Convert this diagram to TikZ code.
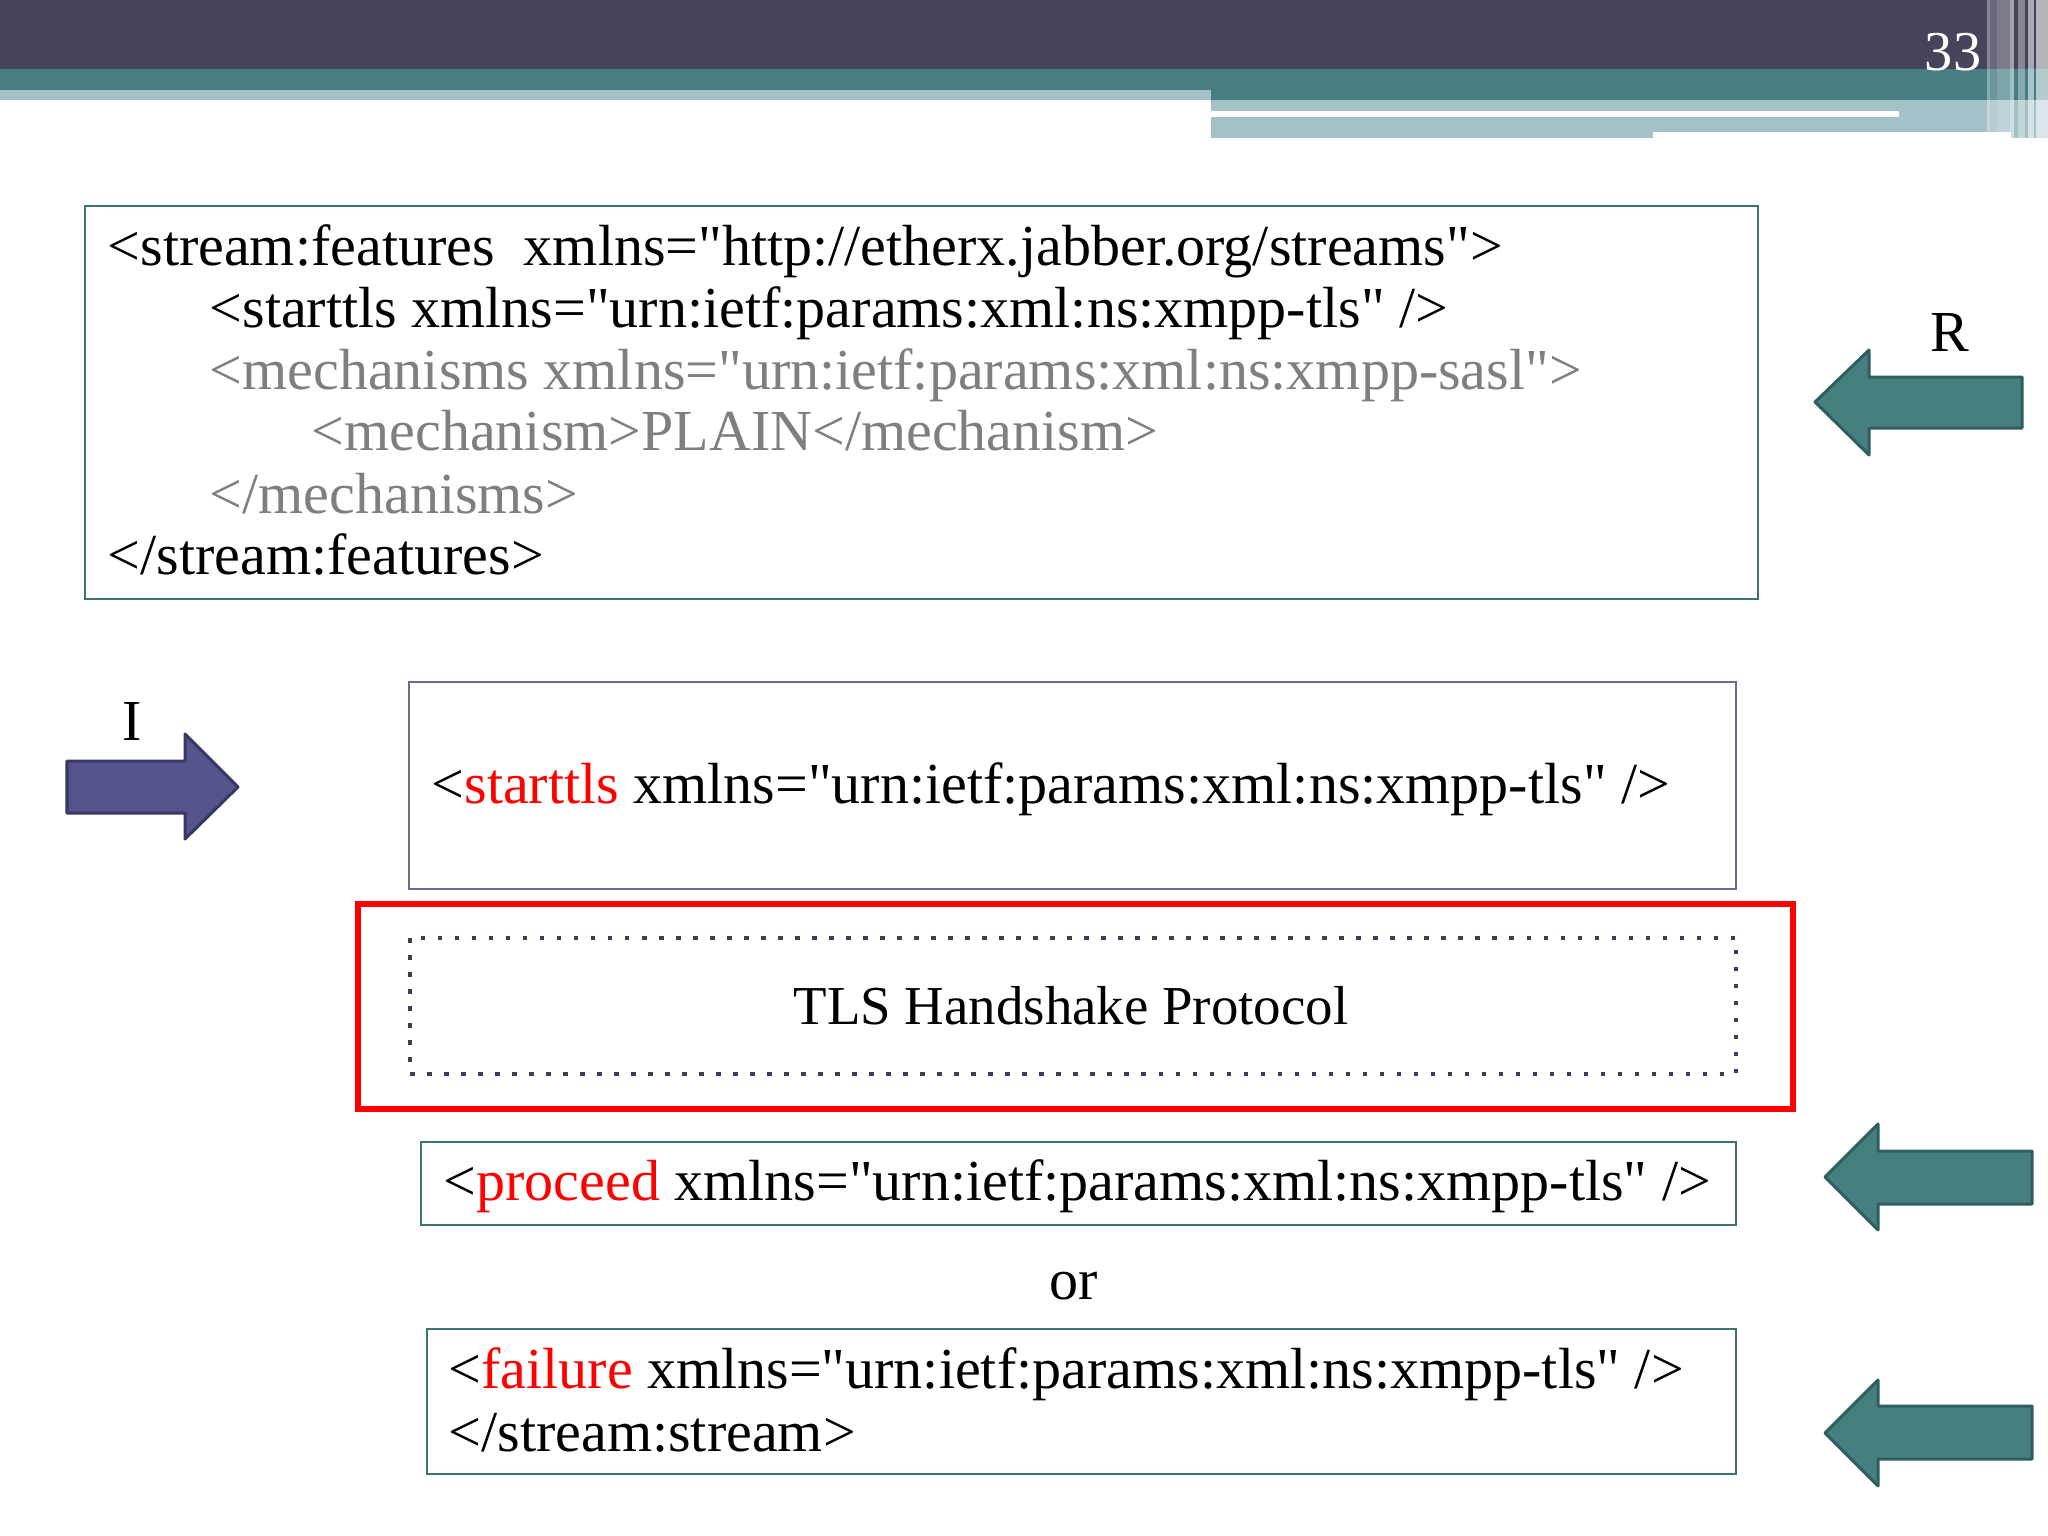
\documentclass[tikz,border=0pt]{standalone}
\usepackage{fontspec}
\setmainfont{Liberation Serif}
\newfontfamily\xmlfamily{Liberation Serif}

\definecolor{bandDark}{HTML}{45445A}
\definecolor{bandTeal}{HTML}{467E83}
\definecolor{bandLight}{HTML}{A3C1C6}
\definecolor{arrowTeal}{HTML}{467F80}
\definecolor{arrowTealLine}{HTML}{2E5E60}
\definecolor{arrowPurple}{HTML}{55538B}
\definecolor{arrowPurpleLine}{HTML}{393766}
\definecolor{boxTeal}{HTML}{3F7272}
\definecolor{boxPurple}{HTML}{6B699A}
\definecolor{dotGray}{HTML}{3C3C5C}
\definecolor{mechGray}{HTML}{7F7F7F}
\definecolor{xmlRed}{HTML}{FF0000}

\newcommand{\codefont}{\xmlfamily\fontsize{16.5}{20}\selectfont}
\newcommand{\hot}[1]{{\color{xmlRed}#1}}

\tikzset{
  xmlbox/.style={draw=boxTeal, line width=0.02cm},
  xmlboxi/.style={draw=boxPurple, line width=0.02cm},
  code/.style={anchor=base west, inner sep=0pt, font=\codefont},
  plain/.style={anchor=base, inner sep=0pt, font=\codefont},
  arrowR/.style={fill=arrowTeal, draw=arrowTealLine, line width=0.03cm, line join=round},
  arrowI/.style={fill=arrowPurple, draw=arrowPurpleLine, line width=0.03cm, line join=round}
}

\begin{document}
\begin{tikzpicture}[x=0.01cm, y=-0.01cm]
  \useasboundingbox (0,0) rectangle (2048,1536);
  \fill[white] (0,0) rectangle (2048,1536);

  % Title bands
  \fill[bandDark] (0,0) rectangle (2048,69);
  \fill[bandTeal] (0,69) rectangle (2048,90);
  \fill[bandTeal] (1211,90) rectangle (2048,100);
  \fill[bandLight] (0,90) rectangle (1211,100);
  \fill[bandLight] (1211,100) rectangle (2048,138);
  \fill[white] (1211,111) rectangle (1899,117);
  \fill[white] (1653,132) rectangle (2011,139);

  % Stripes at the right edge
  \fill[white, opacity=0.35] (1987,0) rectangle (1990,138);
  \fill[white, opacity=0.20] (1990,0) rectangle (1997,138);
  \fill[white, opacity=0.30] (1997,0) rectangle (2010,138);
  \fill[white, opacity=0.50] (2010,0) rectangle (2014,138);
  \fill[white, opacity=0.35] (2018,0) rectangle (2025,138);
  \fill[white, opacity=0.55] (2028,0) rectangle (2034,138);
  \fill[white, opacity=0.60] (2036,0) rectangle (2048,138);

  % Slide number
  \node[plain, text=white, font=\xmlfamily\fontsize{16}{19}\selectfont] (slideno) at (1953,70) {33};

  % Server features
  \draw[xmlbox] (85,206) rectangle (1758,599);
  \node[code] (feat1) at (107,265) {<stream:features\ \ xmlns="http://etherx.jabber.org/streams">};
  \node[code] (feat2) at (209,327) {<starttls xmlns="urn:ietf:params:xml:ns:xmpp-tls" />};
  \node[code, text=mechGray] (feat3) at (209,389) {<mechanisms xmlns="urn:ietf:params:xml:ns:xmpp-sasl">};
  \node[code, text=mechGray] (feat4) at (311,450) {<mechanism>PLAIN</mechanism>};
  \node[code, text=mechGray] (feat5) at (209,513) {</mechanisms>};
  \node[code] (feat6) at (107,574) {</stream:features>};

  % Initiator request
  \draw[xmlboxi] (409,682) rectangle (1736,889);
  \node[code] (start) at (431,803) {<\hot{starttls} xmlns="urn:ietf:params:xml:ns:xmpp-tls" />};

  % Handshake
  \draw[xmlRed, line width=0.055cm] (358,904) rectangle (1793,1109);
  \draw[dotGray, line width=0.045cm, dash pattern=on 0.045cm off 0.125cm] (410,938) rectangle (1736,1074);
  \node[plain, font=\xmlfamily\fontsize{15.6}{19}\selectfont] (tls) at (1071,1024) {TLS Handshake Protocol};

  % Receiver answers
  \draw[xmlbox] (421,1142) rectangle (1736,1225);
  \node[code] (proceed) at (443,1200) {<\hot{proceed} xmlns="urn:ietf:params:xml:ns:xmpp-tls" />};
  \node[plain] (orword) at (1074,1299) {or};
  \draw[xmlbox] (427,1329) rectangle (1736,1474);
  \node[code] (fail1) at (448,1388) {<\hot{failure} xmlns="urn:ietf:params:xml:ns:xmpp-tls" />};
  \node[code] (fail2) at (448,1451) {</stream:stream>};

  % Direction arrows
  \draw[arrowR] (2022,377) -- (1869,377) -- (1869,350) -- (1815,402) -- (1869,455) -- (1869,428) -- (2022,428) -- cycle;
  \node[plain] (recv) at (1950,351) {R};
  \draw[arrowI] (67,761) -- (185,761) -- (185,734) -- (238,787) -- (185,839) -- (185,813) -- (67,813) -- cycle;
  \node[plain] (init) at (132,740) {I};
  \draw[arrowR] (2032,1151) -- (1878,1151) -- (1878,1124) -- (1825,1177) -- (1878,1230) -- (1878,1204) -- (2032,1204) -- cycle;
  \draw[arrowR] (2032,1406) -- (1878,1406) -- (1878,1380) -- (1825,1433) -- (1878,1486) -- (1878,1459) -- (2032,1459) -- cycle;
\end{tikzpicture}
\end{document}
